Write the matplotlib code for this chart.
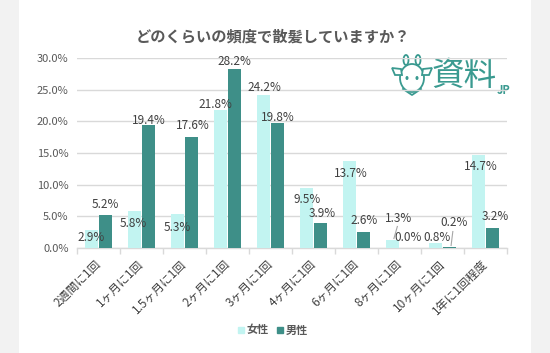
import matplotlib
matplotlib.use("Agg")
import matplotlib.pyplot as plt
from matplotlib.patches import Rectangle, Ellipse, Arc, Polygon
from matplotlib.lines import Line2D
import numpy as np

plt.rcParams['font.family'] = ['Noto Sans CJK JP', 'DejaVu Sans']

# ---- data ----
categories = ["2週間に1回", "1ヶ月に1回", "1.5ヶ月に1回", "2ヶ月に1回", "3ヶ月に1回",
              "4ヶ月に1回", "6ヶ月に1回", "8ヶ月に1回", "10ヶ月に1回", "1年に1回程度"]
female = [2.9, 5.8, 5.3, 21.8, 24.2, 9.5, 13.7, 1.3, 0.8, 14.7]
male = [5.2, 19.4, 17.6, 28.2, 19.8, 3.9, 2.6, 0.0, 0.2, 3.2]
series_names = ["女性", "男性"]
title = "どのくらいの頻度で散髪していますか？"
yticks = [0, 5, 10, 15, 20, 25, 30]

# ---- layout for labels (data coords) ----
female_lbl_pos = [(-0.18, 1.7), (0.80, 3.8), (1.83, 3.3), (2.73, 22.7), (3.85, 25.3),
                  (4.85, 7.6), (5.87, 11.8), (6.97, 4.6), (7.87, 1.7), (8.90, 12.8)]
male_lbl_pos = [(0.17, 6.9), (1.17, 20.2), (2.20, 19.4), (3.15, 29.5), (4.17, 20.6),
                (5.20, 5.5), (6.17, 4.3), (7.20, 1.7), (8.27, 4.1), (9.22, 4.9)]
leaders = [((6.95, 3.4), (6.87, 1.5)), ((8.24, 2.6), (8.20, 0.4))]

C_F = "#c2f4f1"
C_M = "#3e8f88"
TXT = "#404040"
GRAY = "#595959"
GRID = "#d9d9d9"
TEAL = "#3a9a90"

fig = plt.figure(figsize=(5.5, 3.53), dpi=100)
fig.patch.set_facecolor("#f2f2f2")

# background overlay in pixel coords
ov = fig.add_axes([0, 0, 1, 1], zorder=0)
ov.set_xlim(0, 550)
ov.set_ylim(353, 0)
ov.axis('off')
ov.add_patch(Rectangle((19, 0), 512, 353, facecolor="white", edgecolor="none"))

# goat logo (simple outline)
lw = 1.3
ov.add_patch(Ellipse((412, 78), 24, 28, facecolor="white", edgecolor=TEAL, lw=lw))
ov.add_patch(Arc((406, 60), 5, 10, theta1=0, theta2=360, edgecolor=TEAL, lw=lw))
ov.add_patch(Arc((418, 60), 5, 10, theta1=0, theta2=360, edgecolor=TEAL, lw=lw))
ov.add_patch(Polygon([(401, 69), (392, 68), (395, 75), (402, 75)], closed=True,
                     facecolor="white", edgecolor=TEAL, lw=lw))
ov.add_patch(Polygon([(423, 69), (432, 68), (429, 75), (422, 75)], closed=True,
                     facecolor="white", edgecolor=TEAL, lw=lw))
ov.add_patch(Ellipse((407, 78), 3, 4, facecolor=TEAL, edgecolor="none"))
ov.add_patch(Ellipse((417, 78), 3, 4, facecolor=TEAL, edgecolor="none"))
ov.plot([403, 412, 421], [89, 95, 89], color=TEAL, lw=lw)
ov.text(432, 76, "資料", fontsize=23.5, color=TEAL, ha="left", va="center")
ov.text(497, 90, "JP", fontsize=8, color=TEAL, ha="left", va="center", fontweight="bold")

# main axes
ax = fig.add_axes([77 / 550, 1 - 248 / 353, 430 / 550, 190 / 353], zorder=1)
ax.set_facecolor("none")
x = np.arange(len(categories))
w = 0.31
ax.bar(x - 0.16, female, width=w, color=C_F, zorder=3, label=series_names[0])
ax.bar(x + 0.16, male, width=w, color=C_M, zorder=3, label=series_names[1])

ax.set_xlim(-0.5, len(categories) - 0.5)
ax.set_ylim(0, 30)
ax.set_yticks(yticks)
ax.set_yticklabels([f"{v:.1f}%" for v in yticks], fontsize=8, color=GRAY)
ax.yaxis.grid(True, color=GRID, lw=1, zorder=0)
ax.tick_params(axis='y', length=0, pad=6)
for s in ["left", "right", "top"]:
    ax.spines[s].set_visible(False)
ax.spines["bottom"].set_color(GRID)
ax.spines["bottom"].set_linewidth(1)

ax.set_xticks(x)
ax.set_xticklabels(categories, rotation=45, ha="right", va="center",
                   rotation_mode="anchor", fontsize=8.5, color=TXT)
ax.tick_params(axis='x', which='major', length=0, pad=10)
ax.set_xticks(np.arange(-0.5, len(categories)), minor=True)
ax.tick_params(axis='x', which='minor', length=4, color=GRID, width=1)

for v, (px, py) in zip(female, female_lbl_pos):
    ax.text(px, py, f"{v:.1f}%", fontsize=8.5, color=TXT, ha="center", va="center", zorder=5)
for v, (px, py) in zip(male, male_lbl_pos):
    ax.text(px, py, f"{v:.1f}%", fontsize=8.5, color=TXT, ha="center", va="center", zorder=5)
for (a, b) in leaders:
    ax.plot([a[0], b[0]], [a[1], b[1]], color="#a6a6a6", lw=0.8, zorder=4)

fig.text(273 / 550, 1 - 36 / 353, title, fontsize=11, fontweight="bold",
         color=GRAY, ha="center", va="center")

handles = [Line2D([], [], marker='s', linestyle='none', color=C_F, markersize=4),
           Line2D([], [], marker='s', linestyle='none', color=C_M, markersize=4)]
fig.legend(handles, series_names, loc="center", bbox_to_anchor=(272 / 550, 1 - 330 / 353),
           ncol=2, frameon=False, handletextpad=0.1, columnspacing=0.6,
           handlelength=0.8, prop={'weight': 'bold', 'size': 8})
for t in fig.legends[0].get_texts():
    t.set_color(GRAY)

fig.savefig("out.png", dpi=100)
